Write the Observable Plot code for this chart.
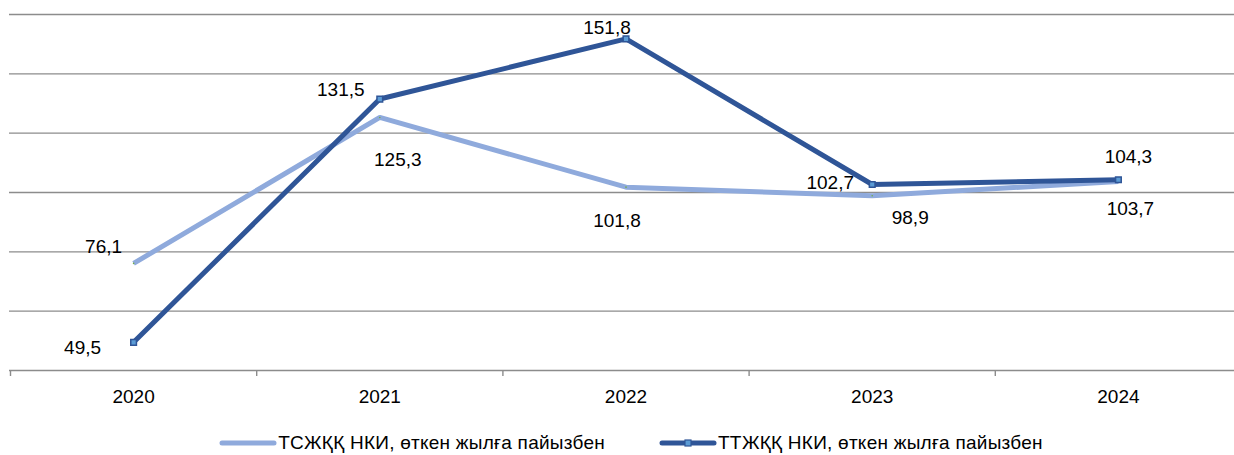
<!DOCTYPE html>
<html><head><meta charset="utf-8">
<script src="https://cdn.jsdelivr.net/npm/d3@7"></script>
<script src="https://cdn.jsdelivr.net/npm/@observablehq/plot@0.6"></script>
<style>
html,body{margin:0;padding:0;background:#fff;}
body{font-family:"Liberation Sans",Arial,sans-serif;color:#000;width:1234px;}
#chart svg{display:block;}
#legend{display:flex;justify-content:center;align-items:center;height:36px;font-size:19px;letter-spacing:0.25px;padding-left:28px;box-sizing:border-box;width:1234px;}
.item{display:flex;align-items:center;margin:0 27px;}
.item svg{margin-right:1px;}
</style></head><body>
<div id="chart"></div>
<div id="legend"></div>
<script>
const years = [2020, 2021, 2022, 2023, 2024];
const tsName = "ТСЖҚҚ НКИ, өткен жылға пайызбен";
const ttName = "ТТЖҚҚ НКИ, өткен жылға пайызбен";
const tsValues = [76.1, 125.3, 101.8, 98.9, 103.7];
const ttValues = [49.5, 131.5, 151.8, 102.7, 104.3];
const gridValues = [40, 60, 80, 100, 120, 140, 160];

const lightColor = "#8FAADC";
const darkColor = "#2F5597";
const gridColor = "#8c8c8c";
const fontFamily = '"Liberation Sans", Arial, sans-serif';
const fmt = v => d3.format(".1f")(v).replace(".", ",");

const tsRows = years.map((year, i) => ({i, year, v: tsValues[i]}));
const ttRows = years.map((year, i) => ({i, year, v: ttValues[i]}));
const bounds = d3.range(years.length + 1).map(k => k - 0.5);

// label offsets (layout only)
const tsOff = [[-30, -16], [18, 42], [-9, 34], [38, 22], [12, 27]];
const ttOff = [[-51, 6], [-39, -9], [-19, -11], [-42, -2], [10, -23]];

const labelMarks = [];
tsRows.forEach((r, k) => labelMarks.push(Plot.text([r], {x: "i", y: "v", text: d => fmt(d.v), dx: tsOff[k][0], dy: tsOff[k][1], fontSize: 19, fill: "#000", lineAnchor: "middle"})));
ttRows.forEach((r, k) => labelMarks.push(Plot.text([r], {x: "i", y: "v", text: d => fmt(d.v), dx: ttOff[k][0], dy: ttOff[k][1], fontSize: 19, fill: "#000", lineAnchor: "middle"})));

const chart = Plot.plot({
  width: 1234,
  height: 425,
  marginTop: 14,
  marginBottom: 55,
  marginLeft: 9,
  marginRight: 0,
  style: {fontFamily, fontSize: "19px", color: "#000", background: "#fff"},
  x: {type: "linear", domain: [-0.5, years.length - 0.5], range: [10, 1241], axis: null},
  y: {domain: [40, 160], axis: null},
  marks: [
    Plot.ruleY(gridValues, {stroke: gridColor, strokeWidth: 1.4}),
    Plot.axisX({ticks: bounds, tickSize: 6, tickFormat: () => "", label: null, stroke: gridColor, strokeWidth: 1.4, strokeOpacity: 1}),
    Plot.axisX({ticks: d3.range(years.length), tickSize: 0, tickPadding: 19, tickFormat: i => String(years[i]), label: null, fontSize: 19, fill: "#000"}),
    Plot.line(tsRows, {x: "i", y: "v", stroke: lightColor, strokeWidth: 5, strokeLinejoin: "round", strokeLinecap: "butt"}),
    Plot.dot(tsRows, {x: "i", y: "v", r: 0.8, fill: "#70AD47", stroke: null}),
    Plot.line(ttRows, {x: "i", y: "v", stroke: darkColor, strokeWidth: 5, strokeLinejoin: "miter", strokeLinecap: "butt"}),
    Plot.dot(ttRows, {x: "i", y: "v", symbol: "square", r: 3.2, fill: "#5B9BD5", stroke: darkColor, strokeWidth: 1.5}),
    ...labelMarks
  ]
});
document.getElementById("chart").append(chart);

// legend
const legend = d3.select("#legend");
function addItem(name, color, marker) {
  const it = legend.append("div").attr("class", "item");
  const s = it.append("svg").attr("width", 58).attr("height", 12);
  s.append("line").attr("x1", 3).attr("x2", 55).attr("y1", 6).attr("y2", 6)
    .attr("stroke", color).attr("stroke-width", 5).attr("stroke-linecap", "round");
  if (marker) s.append("rect").attr("x", 26).attr("y", 3).attr("width", 6).attr("height", 6)
    .attr("fill", "#5B9BD5").attr("stroke", color).attr("stroke-width", 1.2);
  it.append("span").text(name);
}
addItem(tsName, lightColor, false);
addItem(ttName, darkColor, true);
</script>
</body></html>
